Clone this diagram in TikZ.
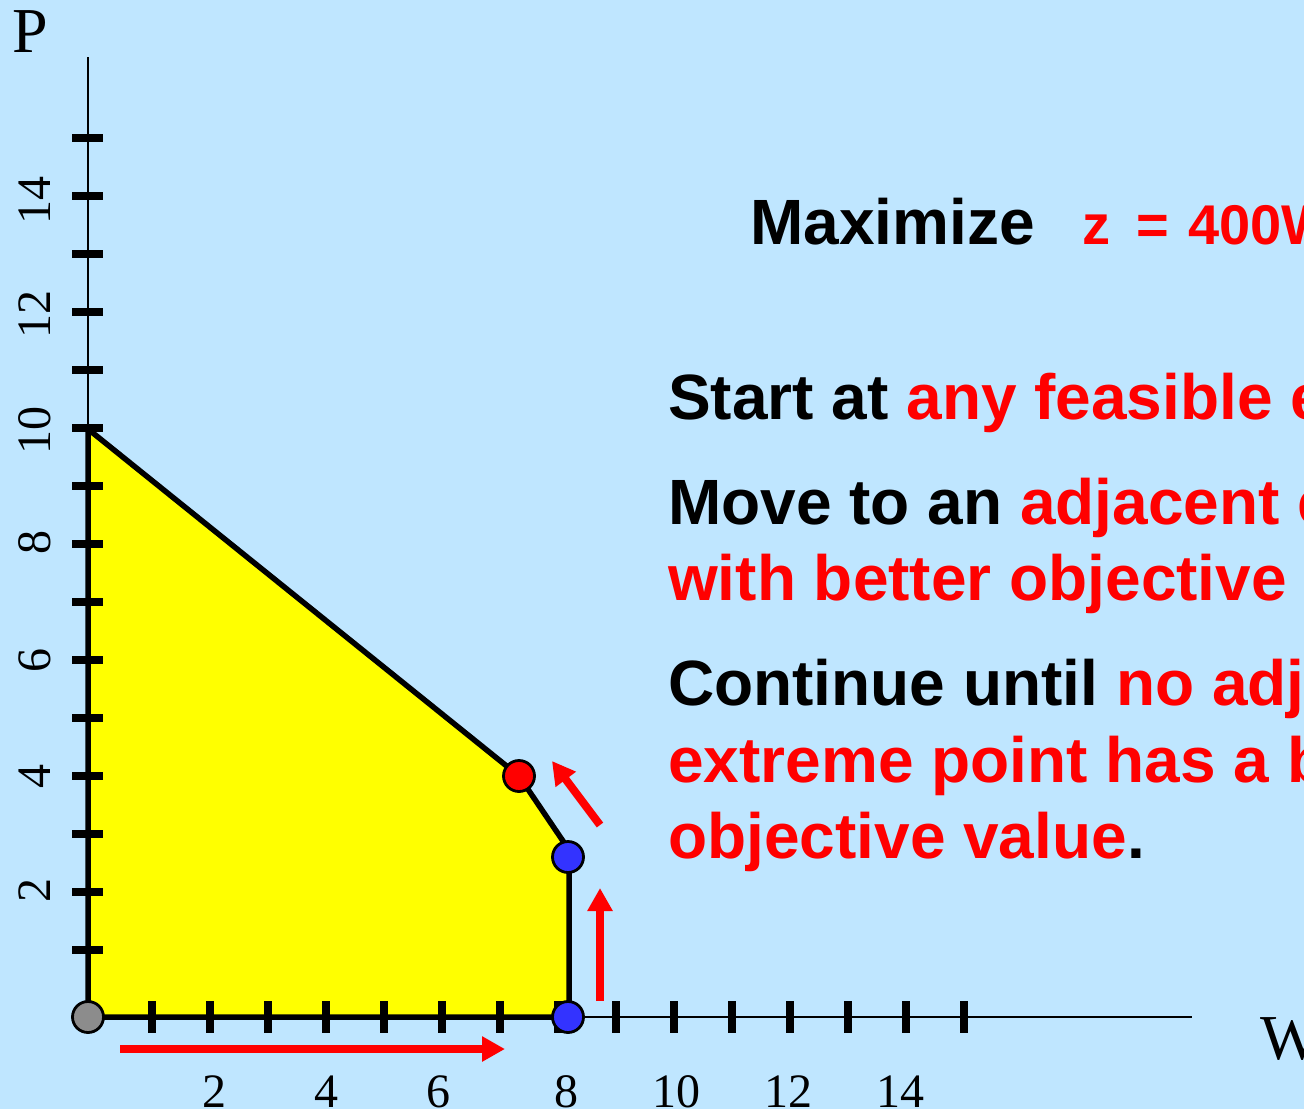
\documentclass[tikz,border=0pt]{standalone}
\usepackage{fontspec}
\setmainfont{Liberation Serif}
\setsansfont{Liberation Sans}
\usetikzlibrary{arrows.meta}
\definecolor{bgblue}{RGB}{191,230,255}
\definecolor{ptblue}{RGB}{51,51,255}
\definecolor{ptgray}{RGB}{140,140,140}
\definecolor{polyyellow}{RGB}{255,255,0}
\begin{document}
\begin{tikzpicture}[x=1pt,y=-1pt,
  axisline/.style={line width=2.8pt,black},
  tickmark/.style={line width=8pt,black},
  pointdot/.style={circle,draw=black,line width=2.8pt,minimum size=31pt,inner sep=0pt},
  movearrow/.style={draw=red,line width=8pt,-{Triangle[length=23pt,width=24pt]}},
  numlabel/.style={font=\fontsize{48pt}{52pt}\selectfont,inner sep=0pt,anchor=base},
  axisname/.style={font=\fontsize{64pt}{70pt}\selectfont,inner sep=0pt,anchor=base west},
  bodytext/.style={font=\fontsize{64pt}{70pt}\selectfont\sffamily\bfseries,inner sep=0pt,anchor=base west},
  ztext/.style={font=\fontsize{56pt}{60pt}\selectfont\sffamily\bfseries,text=red,inner sep=0pt,anchor=base west},
]
\useasboundingbox (0,0) rectangle (1304,1109);
\clip (0,0) rectangle (1304,1109);
\fill[bgblue] (0,0) rectangle (1304,1109);

% feasible region
\filldraw[fill=polyyellow,draw=black,line width=5.5pt,line join=round]
  (88,1017) -- (88,429) -- (519,776) -- (565,844) -- (569,858) -- (569,1017) -- cycle;

% axes
\draw[axisline] (88,57) -- (88,1017);
\draw[axisline] (88,1017) -- (1192,1017);
\foreach \yy in {138,196,...,950} \draw[tickmark] (72,\yy) -- (103,\yy);
\foreach \xx in {152,210,...,966} \draw[tickmark] (\xx,1001) -- (\xx,1033);

% axis numbers
\foreach \xx/\t in {214/2,326/4,438/6,566/8,676/10,788/12,900/14}
  \node[numlabel] (xl\t) at (\xx,1107) {\t};
\foreach \yy/\t in {890/2,776/4,660/6,542/8,430/10,314/12,200/14}
  \node[numlabel,rotate=90] (yl\t) at (50,\yy) {\t};

\node[axisname] (plabel) at (12,52) {P};
\node[axisname] (wlabel) at (1260,1059) {W};

% text
\node[bodytext] (maxt) at (750,244) {Maximize};
\node[ztext] (zvar) at (1082,244) {z};
\node[ztext] (zeq) at (1136,244) {=};
\node[ztext] (zval) at (1188,244) {400W};

\node[bodytext] (l1) at (668,419) {Start at \textcolor{red}{any feasible e}};
\node[bodytext] (l2) at (668,524) {Move to an \textcolor{red}{adjacent e}};
\node[bodytext,text=red] (l3) at (668,600) {with better objective};
\node[bodytext] (l4) at (668,705) {Continue until \textcolor{red}{no adj}};
\node[bodytext,text=red] (l5) at (668,782) {extreme point has a b};
\node[bodytext] (l6) at (668,858) {\textcolor{red}{objective value}.};

% moves
\coordinate (a1s) at (120,1049); \coordinate (a1e) at (505,1049);
\coordinate (a2s) at (600,1001); \coordinate (a2e) at (600,888);
\coordinate (a3s) at (600,825);  \coordinate (a3e) at (552,761);
\draw[movearrow] (a1s) -- (a1e);
\draw[movearrow] (a2s) -- (a2e);
\draw[movearrow] (a3s) -- (a3e);

% extreme points
\node[pointdot,fill=ptgray] (p0) at (88,1017) {};
\node[pointdot,fill=ptblue] (p1) at (568,1017) {};
\node[pointdot,fill=ptblue] (p2) at (568,857) {};
\node[pointdot,fill=red] (p3) at (519,776) {};
\end{tikzpicture}
\end{document}
